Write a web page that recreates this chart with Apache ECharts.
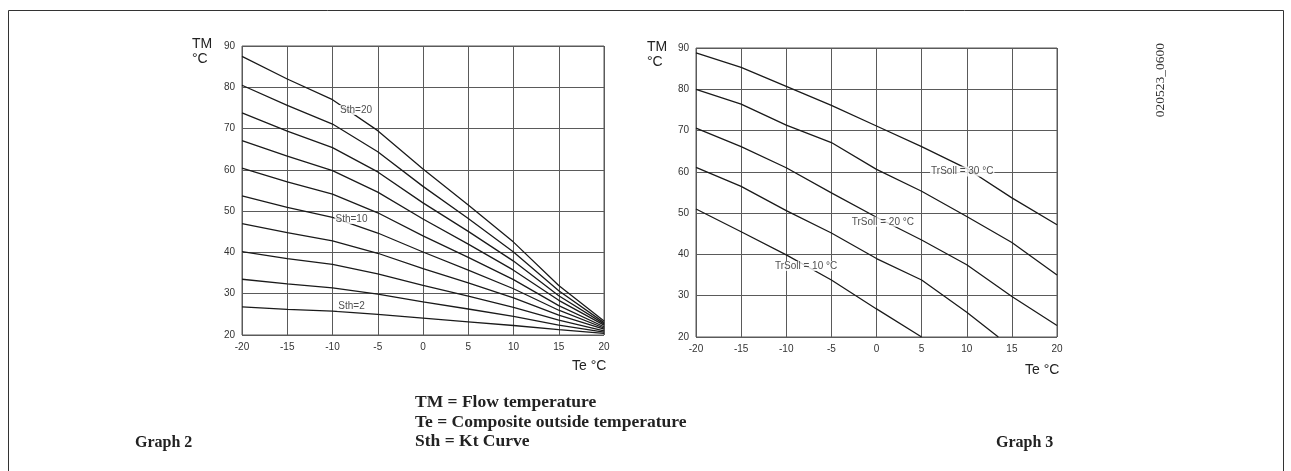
<!DOCTYPE html>
<html>
<head>
<meta charset="utf-8">
<script src="https://cdn.jsdelivr.net/npm/echarts@6.0.0/dist/echarts.min.js"></script>
<style>
  html, body { margin: 0; padding: 0; background: #fff; }
  #chart { width: 1291px; height: 471px; }
</style>
</head>
<body>
<div id="chart"></div>
<script>
// outside temperature grid points, Te in °C
const teTicks = [-20, -15, -10, -5, 0, 5, 10, 15, 20]

// graph 2: flow temperature per Kt curve (Sth), read at teTicks
const sth2 = [26.8, 26.2, 25.8, 25.0, 24.1, 23.2, 22.3, 21.3, 20.4]
const sth4 = [33.5, 32.4, 31.4, 29.9, 28.0, 26.3, 24.5, 22.4, 20.7]
const sth6 = [40.2, 38.5, 37.1, 34.8, 32.0, 29.4, 26.7, 23.6, 21.0]
const sth8 = [47.0, 44.8, 42.8, 39.8, 36.1, 32.6, 29.0, 24.8, 21.4]
const sth10 = [53.7, 50.9, 48.5, 44.7, 40.1, 35.7, 31.2, 26.0, 21.7]
const sth12 = [60.4, 57.1, 54.1, 49.6, 44.0, 38.8, 33.4, 27.1, 22.0]
const sth14 = [67.1, 63.3, 59.8, 54.6, 48.1, 42.0, 35.7, 28.4, 22.4]
const sth16 = [73.8, 69.4, 65.4, 59.5, 52.0, 45.1, 37.9, 29.5, 22.7]
const sth18 = [80.5, 75.6, 71.1, 64.4, 56.0, 48.2, 40.1, 30.7, 23.0]
const sth20 = [87.5, 82.0, 77.0, 69.5, 60.2, 51.5, 42.5, 32.0, 23.4]
const sthCurves = [sth2, sth4, sth6, sth8, sth10, sth12, sth14, sth16, sth18, sth20]
const sthNames = ['Sth=2', 'Sth=4', 'Sth=6', 'Sth=8', 'Sth=10', 'Sth=12', 'Sth=14', 'Sth=16', 'Sth=18', 'Sth=20']
// label anchors [Te, TM, text]
const sthLabels = [[-7.4, 74.5, 'Sth=20'], [-7.9, 48.1, 'Sth=10'], [-7.9, 27.0, 'Sth=2']]

// graph 3: flow temperature per room set point (TrSoll), [Te, TM]
const trSoll30 = [[-20, 88.8], [-15, 85.3], [-10, 80.7], [-5, 76.1], [0, 71.1], [5, 66.1], [10, 60.8], [15, 53.7], [20, 47.2]]
const trSoll25 = [[-20, 80.0], [-15, 76.4], [-10, 71.3], [-5, 67.1], [0, 60.6], [5, 55.3], [10, 49.2], [15, 42.9], [20, 35.0]]
const trSoll20 = [[-20, 70.6], [-15, 66.1], [-10, 61.0], [-5, 54.9], [0, 49.0], [5, 43.5], [10, 37.5], [15, 29.8], [20, 22.8]]
const trSoll15 = [[-20, 61.1], [-15, 56.5], [-10, 50.6], [-5, 45.2], [0, 39.0], [5, 33.8], [10, 26.0], [13.5, 20]]
const trSoll10 = [[-20, 51.0], [-15, 45.5], [-10, 39.9], [-5, 33.8], [0, 26.8], [5, 20]]
const trLines = [trSoll30, trSoll25, trSoll20, trSoll15, trSoll10]
const trLabels = [[9.5, 60.1, 'TrSoll = 30 °C'], [0.7, 47.9, 'TrSoll = 20 °C'], [-7.8, 37.2, 'TrSoll = 10 °C']]

const chart = echarts.init(document.getElementById('chart'))

const gridLine = { color: '#5a5a5a', width: 1 }
const tickFont = { color: '#333', fontSize: 10, fontFamily: 'Liberation Sans, Arial, sans-serif' }
const curveStyle = { color: '#1a1a1a', width: 1.3 }

function xAxisCfg(gridIndex) {
  return {
    gridIndex,
    type: 'value',
    min: -20,
    max: 20,
    interval: 5,
    axisLine: { show: false },
    axisTick: { show: false },
    splitLine: { show: true, lineStyle: gridLine },
    axisLabel: { ...tickFont, margin: 7 },
  }
}
function yAxisCfg(gridIndex) {
  return {
    gridIndex,
    type: 'value',
    min: 20,
    max: 90,
    interval: 10,
    axisLine: { show: false },
    axisTick: { show: false },
    splitLine: { show: true, lineStyle: gridLine },
    axisLabel: { ...tickFont, margin: 7 },
  }
}
function labelSeries(idx, items) {
  return {
    type: 'scatter',
    xAxisIndex: idx,
    yAxisIndex: idx,
    symbolSize: 1,
    z: 5,
    itemStyle: { color: 'rgba(0,0,0,0)' },
    label: {
      show: true,
      position: 'inside',
      formatter: p => p.data[2],
      color: '#222',
      fontSize: 10,
      fontFamily: 'Liberation Sans, Arial, sans-serif',
      backgroundColor: '#fff',
      padding: [0, 1],
    },
    data: items,
  }
}

const series = []
sthCurves.forEach((vals, i) => {
  series.push({
    name: sthNames[i],
    type: 'line',
    xAxisIndex: 0,
    yAxisIndex: 0,
    symbol: 'none',
    lineStyle: curveStyle,
    data: teTicks.map((t, j) => [t, vals[j]]),
  })
})
series.push(labelSeries(0, sthLabels))
trLines.forEach(pts => {
  series.push({
    type: 'line',
    xAxisIndex: 1,
    yAxisIndex: 1,
    symbol: 'none',
    lineStyle: curveStyle,
    data: pts,
  })
})
series.push(labelSeries(1, trLabels))

const titleFont = '14px Liberation Sans, Arial, sans-serif'
const noteFont = 'bold 17.5px Liberation Serif, Times New Roman, serif'
const graphFont = 'bold 16px Liberation Serif, Times New Roman, serif'

const option = {
  backgroundColor: '#fff',
  animation: false,
  grid: [
    { left: 242, top: 46, width: 362, height: 289, show: true, borderColor: '#5a5a5a', borderWidth: 1 },
    { left: 696, top: 48, width: 361, height: 289, show: true, borderColor: '#5a5a5a', borderWidth: 1 },
  ],
  xAxis: [xAxisCfg(0), xAxisCfg(1)],
  yAxis: [yAxisCfg(0), yAxisCfg(1)],
  graphic: [
    { type: 'rect', shape: { x: 8.5, y: 10.5, width: 1275, height: 480 }, style: { fill: 'none', stroke: '#333', lineWidth: 1 } },
    { type: 'text', x: 192, y: 37, style: { text: 'TM', font: titleFont, fill: '#222' } },
    { type: 'text', x: 192, y: 52, style: { text: '°C', font: titleFont, fill: '#222' } },
    { type: 'text', x: 572, y: 359, style: { text: 'Te °C', font: titleFont, fill: '#222' } },
    { type: 'text', x: 647, y: 40, style: { text: 'TM', font: titleFont, fill: '#222' } },
    { type: 'text', x: 647, y: 55, style: { text: '°C', font: titleFont, fill: '#222' } },
    { type: 'text', x: 1025, y: 363, style: { text: 'Te °C', font: titleFont, fill: '#222' } },
    {
      type: 'text', x: 1160, y: 80, rotation: Math.PI / 2,
      style: { text: '020523_0600', font: '13.5px Liberation Serif, serif', fill: '#333', align: 'center', verticalAlign: 'middle' },
    },
    { type: 'text', x: 415, y: 393, style: { text: 'TM = Flow temperature', font: noteFont, fill: '#222' } },
    { type: 'text', x: 415, y: 413, style: { text: 'Te = Composite outside temperature', font: noteFont, fill: '#222' } },
    { type: 'text', x: 415, y: 432, style: { text: 'Sth = Kt Curve', font: noteFont, fill: '#222' } },
    { type: 'text', x: 135, y: 435, style: { text: 'Graph 2', font: graphFont, fill: '#222' } },
    { type: 'text', x: 996, y: 435, style: { text: 'Graph 3', font: graphFont, fill: '#222' } },
  ],
  series,
}
chart.setOption(option)
</script>
</body>
</html>
